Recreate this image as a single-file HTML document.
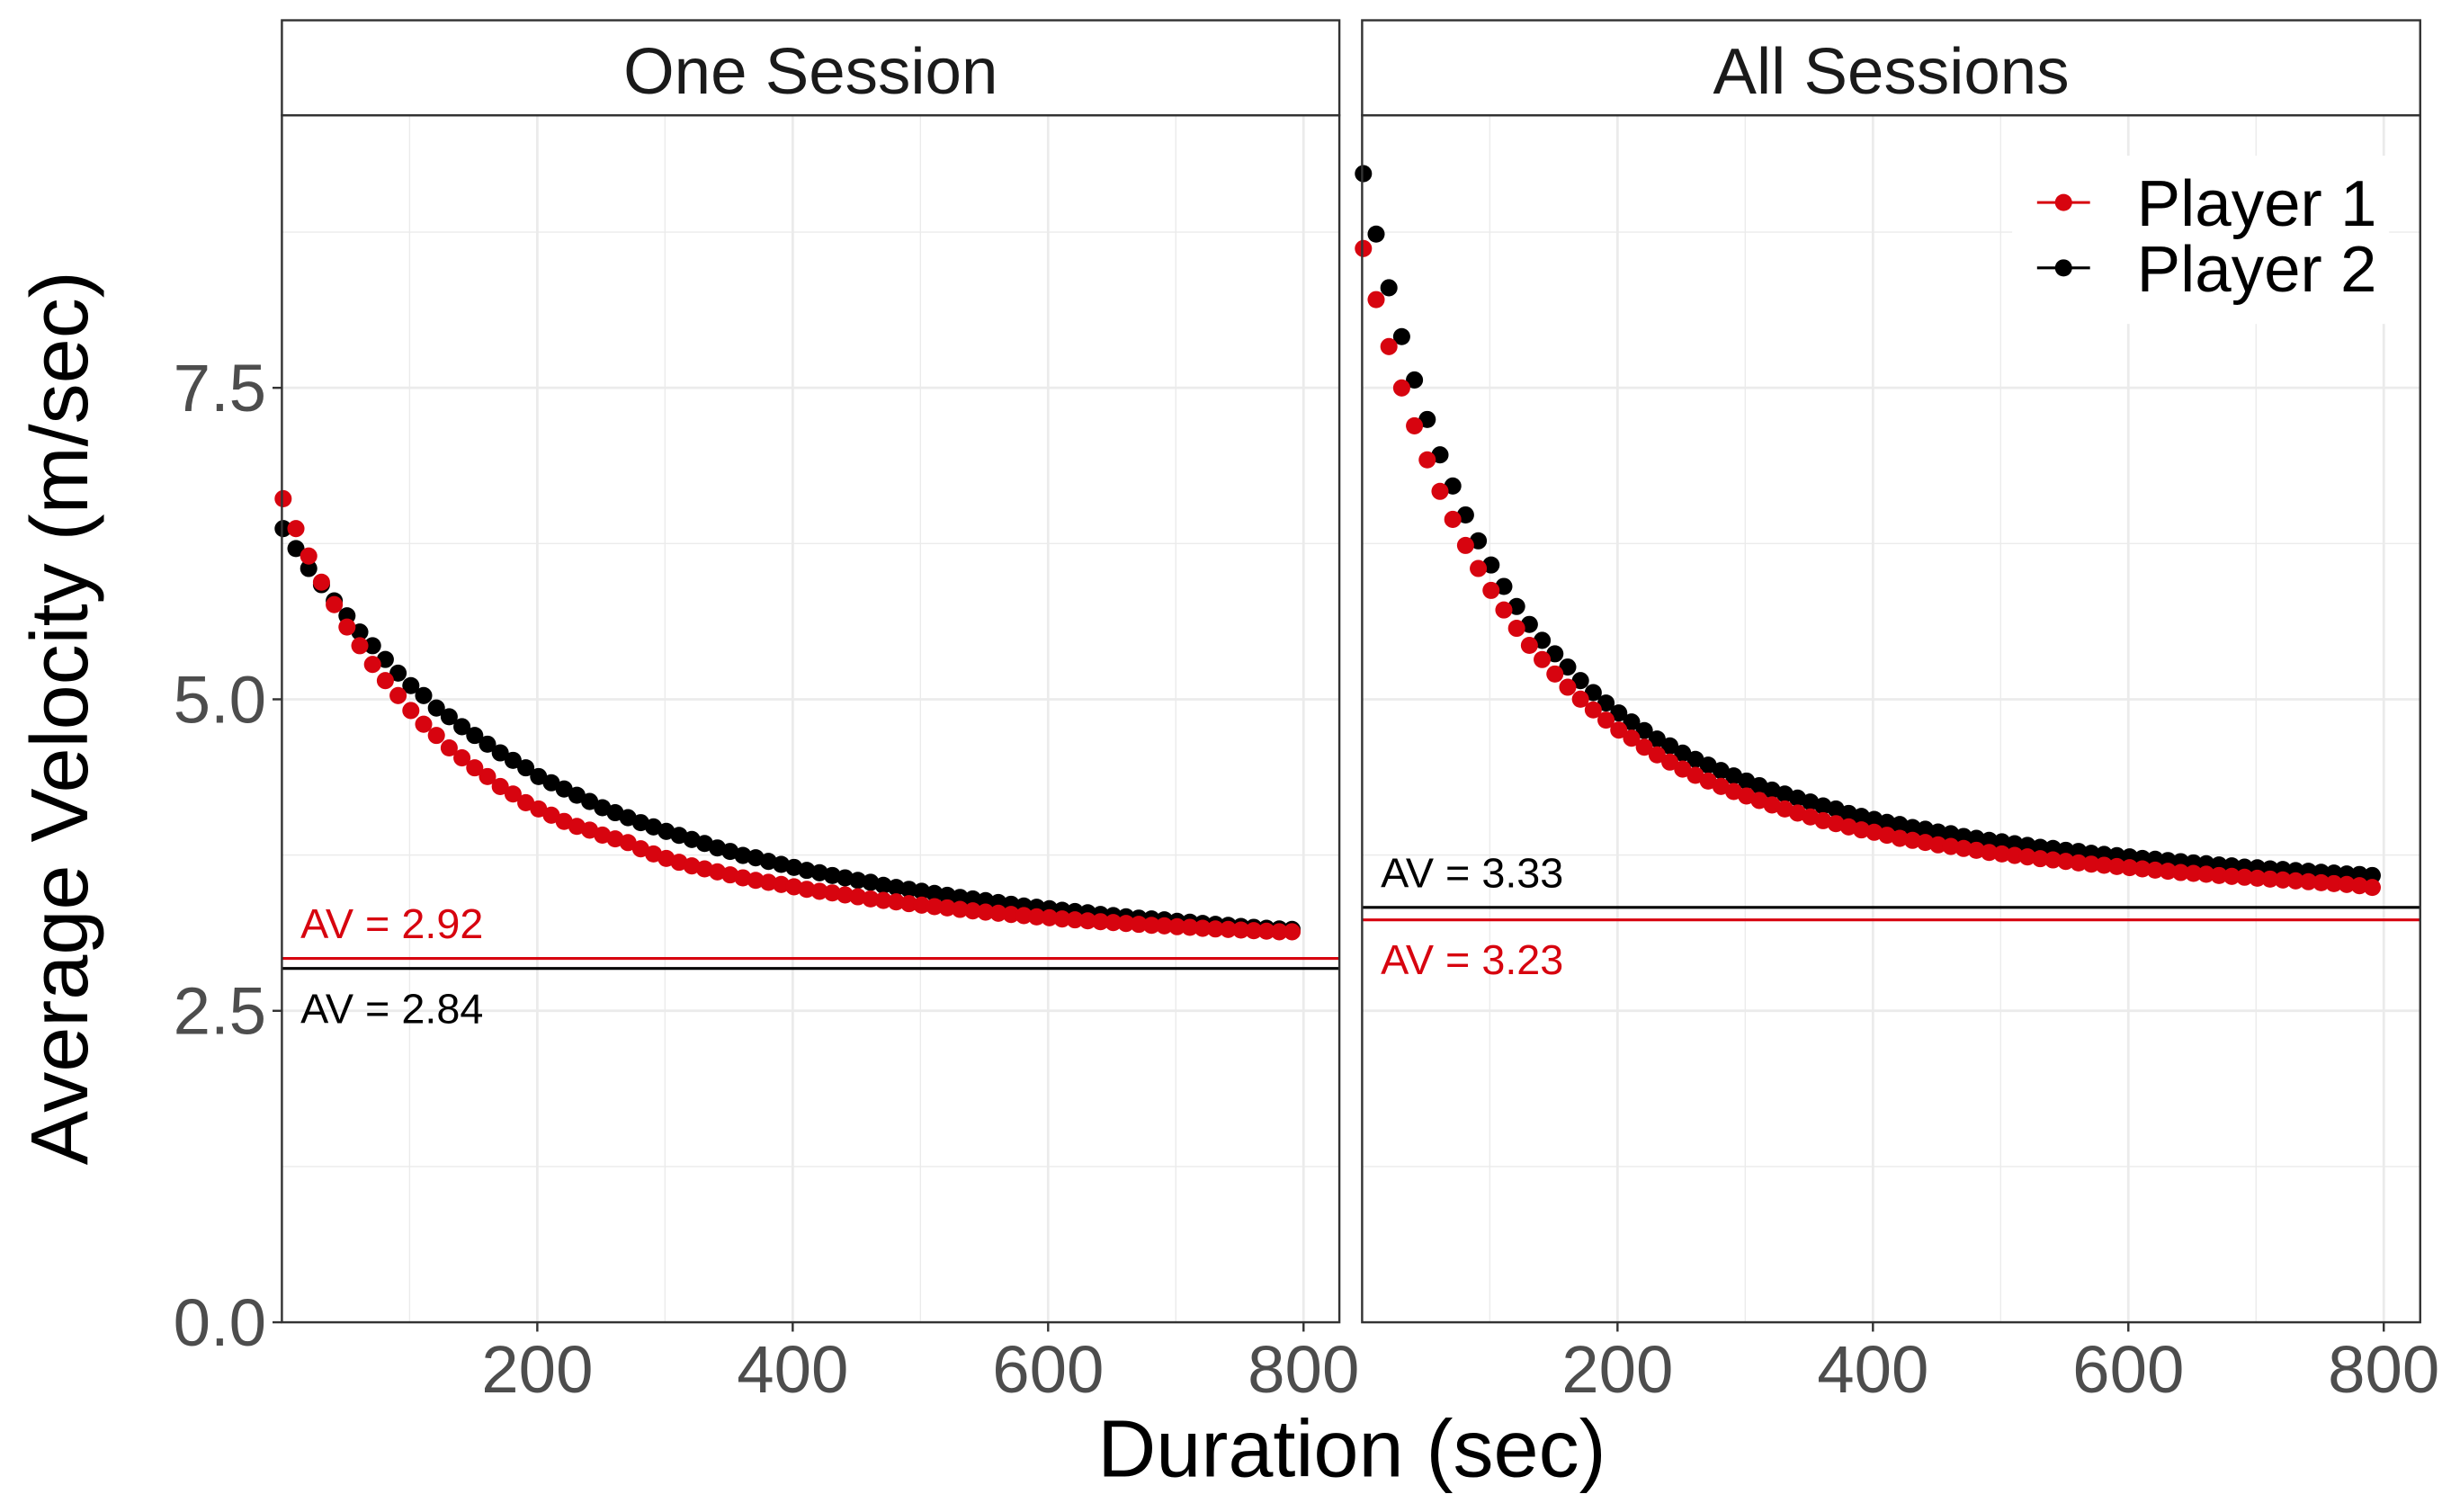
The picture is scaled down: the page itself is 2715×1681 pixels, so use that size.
<!DOCTYPE html>
<html><head><meta charset="utf-8"><style>
html,body{margin:0;padding:0;background:#fff;}
svg{display:block;font-family:"Liberation Sans",sans-serif;}
</style></head><body>
<svg id="chart" width="2715" height="1681" viewBox="0 0 1568 970.8" xmlns="http://www.w3.org/2000/svg"></svg>
<script>
const durations = Array.from({length:80},(_,k)=>1+10*k);
const oneP1 = [6.61,6.37,6.15,5.94,5.76,5.58,5.43,5.28,5.15,5.03,4.91,4.80,4.71,4.61,4.53,4.45,4.38,4.30,4.24,4.17,4.12,4.07,4.02,3.98,3.95,3.91,3.88,3.85,3.80,
3.759,3.723,3.692,3.663,3.639,3.615,3.591,3.567,3.547,3.531,3.514,3.495,3.475,3.459,3.446,3.43,3.415,3.398,3.386,3.374,3.36,3.348,3.336,3.326,3.314,3.302,3.292,3.283,3.273,3.264,3.254,3.247,3.237,3.23,3.222,3.215,3.208,3.201,3.194,3.186,3.182,3.175,3.17,3.162,3.157,3.153,3.148,3.143,3.139,3.134,3.134];
const oneP2 = [6.37,6.21,6.05,5.92,5.79,5.67,5.54,5.43,5.32,5.21,5.11,5.03,4.93,4.86,4.78,4.71,4.64,4.57,4.51,4.45,4.38,4.33,4.28,4.23,4.18,4.13,4.09,4.05,4.01,
3.976,3.94,3.908,3.875,3.843,3.807,3.779,3.747,3.728,3.699,3.675,3.651,3.627,3.608,3.586,3.567,3.547,3.531,3.507,3.49,3.475,3.459,3.442,3.427,3.41,3.398,3.384,3.369,3.355,3.341,3.331,3.319,3.307,3.297,3.287,3.273,3.264,3.254,3.244,3.237,3.23,3.218,3.211,3.201,3.194,3.186,3.177,3.17,3.162,3.157,3.153];
const allP1 = [8.618,8.208,7.831,7.499,7.195,6.922,6.669,6.444,6.235,6.05,5.874,5.717,5.57,5.433,
5.319,5.203,5.097,5.001,4.915,4.833,4.753,4.688,4.616,4.554,4.496,4.44,4.39,4.344,4.301,4.26,4.224,4.188,4.152,4.12,4.087,4.056,4.026,4.002,
3.976,3.952,3.933,3.909,3.884,3.868,3.851,3.832,3.819,3.803,3.788,3.771,3.759,3.747,3.735,3.721,3.711,3.699,3.687,3.677,3.668,3.658,3.649,3.639,3.629,3.62,3.61,3.603,3.596,3.586,3.579,3.572,3.564,3.557,3.55,3.543,3.536,3.528,3.521,3.514,3.504,3.49];
const allP2 = [9.219,8.734,8.303,7.911,7.563,7.246,6.962,6.712,6.48,6.272,6.078,5.906,5.745,5.601,5.473,
5.365,5.259,5.15,5.054,4.97,4.89,4.818,4.749,4.681,4.626,4.568,4.518,4.472,4.428,4.385,4.344,4.307,4.271,4.24,4.207,4.176,4.144,4.12,
4.084,4.06,4.036,4.012,3.995,3.971,3.957,3.935,3.921,3.899,3.884,3.868,3.856,3.841,3.827,3.812,3.803,3.788,3.779,3.764,3.755,3.745,3.735,3.723,3.716,3.706,3.697,3.687,3.68,3.67,3.663,3.653,3.648,3.639,3.634,3.625,3.62,3.612,3.605,3.598,3.594,3.586];
const avOne = [2.92, 2.84];
const avAll = [3.23, 3.33];
const panelTitles = ["One Session","All Sessions"];
const seriesNames = ["Player 1","Player 2"];
const yTicks = [0, 2.5, 5.0, 7.5];
const yTickLabels = ["0.0","2.5","5.0","7.5"];
const xTicks = [200, 400, 600, 800];
const yMinor = [1.25, 3.75, 6.25, 8.75];
const xMinor = [100, 300, 500, 700];

const NS="http://www.w3.org/2000/svg";
const svg=document.getElementById('chart');
function mk(tag,attrs,parent){const e=document.createElementNS(NS,tag);for(const k in attrs)e.setAttribute(k,attrs[k]);(parent||svg).appendChild(e);return e;}
const colors=["#d7040f","#000000"];
const plotTop=74, plotBot=849, yScale=80;
const yPos=v=>plotBot - v*yScale;
const panels=[{x0:181,x1:860,s:[oneP1,oneP2],av:avOne},{x0:874.6,x1:1554,s:[allP1,allP2],av:avAll}];
panels.forEach((p,pi)=>{
  const xPos=d=>p.x0 + d*0.82;
  const g=mk('g',{});
  
  
  mk('rect',{x:p.x0,y:plotTop,width:p.x1-p.x0,height:plotBot-plotTop,fill:'#fff'},g);
  yMinor.forEach(v=>{const l=mk('line',{x1:p.x0,x2:p.x1,y1:yPos(v),y2:yPos(v),stroke:'#ebebeb','stroke-width':0.8},g);});
  xMinor.forEach(d=>{const l=mk('line',{x1:xPos(d),x2:xPos(d),y1:plotTop,y2:plotBot,stroke:'#ebebeb','stroke-width':0.8},g);});
  yTicks.forEach(v=>{const l=mk('line',{x1:p.x0,x2:p.x1,y1:yPos(v),y2:yPos(v),stroke:'#ebebeb','stroke-width':1.6},g);});
  xTicks.forEach(d=>{const l=mk('line',{x1:xPos(d),x2:xPos(d),y1:plotTop,y2:plotBot,stroke:'#ebebeb','stroke-width':1.6},g);});
  [1,0].forEach(si=>{
    p.s[si].forEach((v,i)=>{
      const c=mk('circle',{cx:xPos(durations[i]),cy:yPos(v),r:5.5,fill:colors[si]},g);
      
      
    });
  });
  p.av.forEach((v,si)=>{
    const l=mk('line',{x1:p.x0,x2:p.x1,y1:yPos(v),y2:yPos(v),stroke:colors[si],'stroke-width':1.8},g);
    
    
  });
  const hiIdx = p.av[0]>=p.av[1]?0:1, loIdx=1-hiIdx;
  const t1=mk('text',{x:p.x0+12,y:yPos(p.av[hiIdx])-13,'font-size':27,fill:colors[hiIdx]},g);
  t1.textContent='AV = '+p.av[hiIdx].toFixed(2);
  
  
  const t2=mk('text',{x:p.x0+12,y:yPos(p.av[loIdx])+35,'font-size':27,fill:colors[loIdx]},g);
  t2.textContent='AV = '+p.av[loIdx].toFixed(2);
  
  
  mk('rect',{x:p.x0,y:plotTop,width:p.x1-p.x0,height:plotBot-plotTop,fill:'none',stroke:'#333','stroke-width':1.4},g);
  const st=mk('rect',{x:p.x0,y:13,width:p.x1-p.x0,height:plotTop-13,fill:'#fff',stroke:'#333','stroke-width':1.4},g);
  
  
  const tt=mk('text',{x:(p.x0+p.x1)/2,y:60,'font-size':42,'text-anchor':'middle',fill:'#1a1a1a'},g);
  tt.textContent=panelTitles[pi];
  
  
  xTicks.forEach(d=>{
    mk('line',{x1:xPos(d),x2:xPos(d),y1:plotBot,y2:plotBot+6,stroke:'#333','stroke-width':1.4},g);
    const t=mk('text',{x:xPos(d),y:894,'font-size':43,'text-anchor':'middle',fill:'#4d4d4d'},g);
    t.textContent=String(d);
    
    
  });
});
yTicks.forEach((v,i)=>{
  mk('line',{x1:175,x2:181,y1:yPos(v),y2:yPos(v),stroke:'#333','stroke-width':1.4});
  const t=mk('text',{x:171,y:yPos(v)+15,'font-size':43,'text-anchor':'end',fill:'#4d4d4d'});
  t.textContent=yTickLabels[i];
  
  
});
const yt=mk('text',{x:0,y:0,'font-size':52,'text-anchor':'middle',fill:'#000',transform:'translate(56,461) rotate(-90)'});
yt.textContent='Average Velocity (m/sec)';


const xt=mk('text',{x:868,y:948,'font-size':52,'text-anchor':'middle',fill:'#000'});
xt.textContent='Duration (sec)';


const lg=mk('g',{});


mk('rect',{x:1292,y:100,width:242,height:108,fill:'#fff'},lg);
seriesNames.forEach((n,i)=>{
  const y=130+i*42;
  const e=mk('g',{},lg);
  
  
  mk('line',{x1:1308,x2:1342,y1:y,y2:y,stroke:colors[i],'stroke-width':1.8},e);
  mk('circle',{cx:1325,cy:y,r:5.5,fill:colors[i]},e);
  const t=mk('text',{x:1372,y:y+15,'font-size':42,fill:'#000'},e);
  t.textContent=n;
  
  
});
</script>
</body></html>
